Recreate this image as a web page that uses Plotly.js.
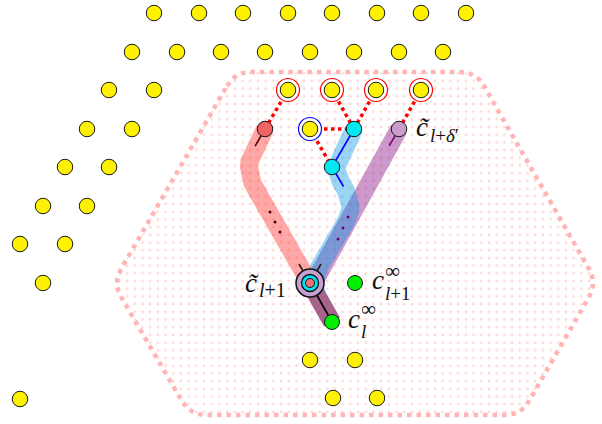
<!DOCTYPE html>
<html><head><meta charset="utf-8">
<script src="https://cdn.plot.ly/plotly-3.0.1.min.js"></script>
<style>body{margin:0;background:#fff}</style>
</head><body>
<div id="chart" style="width:602px;height:424px"></div>
<script>
// ---- data (pixel-space coordinates) ----
const yellowX = [154,199,243,288,332,377,421,466, 132,177,221,265,310,354,399,443, 109,154,288,332,376,421, 87,132,310, 65,109, 43,87, 20,65, 43, 310,355, 20,333,377];
const yellowY = [13,13,13,13,13,13,13,13, 52,52,52,52,52,52,52,52, 90,90,90,90,90,90, 129,129,129, 167,167, 206,206, 244,244, 283, 360,360, 399,398,398];
const ringRedX = [288,332,376,421];
const ringRedY = [90,90,90,90];
const ringBlueX = [310];
const ringBlueY = [129];
const cyanX = [354,332];
const cyanY = [129,167];
const redNodeX = [265], redNodeY = [129];
const purpleNodeX = [399], purpleNodeY = [129];
const greenX = [355,332], greenY = [283,322];
const centerX = [310], centerY = [283];
const hexX = [235,476,597,521,190,113];
const hexY = [72,72,283,415,415,283];
const redBandX = [265,243,310,332], redBandY = [129,167,283,322];
const purpleBandX = [399,310,332], purpleBandY = [129,283,322];
const blueBandX = [354,332,355,310,332], blueBandY = [129,167,206,283,322];
const linkX = [265,288,null, 354,332,null, 354,376,null, 310,354,null, 310,332,null, 399,421];
const linkY = [129,90,null, 129,90,null, 129,90,null, 129,129,null, 129,167,null, 129,90];
const redDotsX = [270,275,280], redDotsY = [212,222,232];
const purpleDotsX = [348,343,338], purpleDotsY = [217,228,239];

// ---- helpers ----
function roundPath(xs, ys, r, closed){
  const n = xs.length, ox=[], oy=[];
  for(let i=0;i<n;i++){
    const isEnd = !closed && (i===0 || i===n-1);
    if(isEnd){ ox.push(xs[i]); oy.push(ys[i]); continue; }
    const p = (i-1+n)%n, q = (i+1)%n;
    const dx1 = xs[p]-xs[i], dy1 = ys[p]-ys[i], l1 = Math.hypot(dx1,dy1);
    const dx2 = xs[q]-xs[i], dy2 = ys[q]-ys[i], l2 = Math.hypot(dx2,dy2);
    const ax = xs[i]+r*dx1/l1, ay = ys[i]+r*dy1/l1;
    const bx = xs[i]+r*dx2/l2, by = ys[i]+r*dy2/l2;
    for(let k=0;k<=8;k++){
      const t=k/8, u=1-t;
      ox.push(u*u*ax+2*u*t*xs[i]+t*t*bx);
      oy.push(u*u*ay+2*u*t*ys[i]+t*t*by);
    }
  }
  if(closed){ ox.push(ox[0]); oy.push(oy[0]); }
  return [ox, oy];
}
const hex = roundPath(hexX, hexY, 16, true);
const rb = roundPath(redBandX, redBandY, 24, false);
const pb = roundPath(purpleBandX, purpleBandY, 10, false);
const bb = roundPath(blueBandX, blueBandY, 18, false);

function seg(x0,y0,x1,y1,f){ return [[x0, x0+(x1-x0)*f],[y0, y0+(y1-y0)*f]]; }
const redStub = seg(redBandX[0],redBandY[0],redBandX[1],redBandY[1],0.45);
const purpleStub = seg(purpleBandX[0],purpleBandY[0],purpleBandX[1],purpleBandY[1],0.11);
const blueStub = seg(blueBandX[1],blueBandY[1],blueBandX[2],blueBandY[2],0.5);

const traces = [];
traces.push({x:hex[0], y:hex[1], mode:'lines', fill:'toself', fillcolor:'rgba(0,0,0,0)',
  fillpattern:{shape:'.', fgcolor:'#ffd8d8', bgcolor:'rgba(0,0,0,0)', size:7.7, solidity:0.1},
  line:{color:'#ffb5b5', width:4.5, dash:'4.5px,5px'}, hoverinfo:'skip'});
traces.push({x:pb[0], y:pb[1], mode:'lines', line:{color:'rgba(128,0,128,0.40)', width:18}});
traces.push({x:bb[0], y:bb[1], mode:'lines', line:{color:'rgba(0,150,230,0.40)', width:18}});
traces.push({x:rb[0], y:rb[1], mode:'lines', line:{color:'rgba(255,0,0,0.34)', width:18}});
traces.push({x:linkX, y:linkY, mode:'lines', connectgaps:false, line:{color:'#ff0000', width:3.5, dash:'3.5px,3.5px'}});
traces.push({x:redStub[0], y:redStub[1], mode:'lines', line:{color:'#5a0000', width:1.6}});
traces.push({x:purpleStub[0], y:purpleStub[1], mode:'lines', line:{color:'#800080', width:1.6}});
traces.push({x:[blueBandX[0],blueBandX[1]].concat(blueStub[0]).concat([null]), y:[blueBandY[0],blueBandY[1]].concat(blueStub[1]).concat([null]), mode:'lines', line:{color:'#0000ff', width:1.6}});
traces.push({x:[redBandX[2]-11, redBandX[2], null, purpleBandX[1]+11, purpleBandX[1]], y:[redBandY[2]-19, redBandY[2], null, purpleBandY[1]-19, purpleBandY[1]], mode:'lines', connectgaps:false, line:{color:'#2a1a1a', width:1.6}});
traces.push({x:[centerX[0], greenX[1]], y:[centerY[0], greenY[1]], mode:'lines', line:{color:'#000', width:1.6}});
traces.push({x:redDotsX, y:redDotsY, mode:'markers', marker:{size:3, color:'#5a0000'}});
traces.push({x:purpleDotsX, y:purpleDotsY, mode:'markers', marker:{size:3, color:'#7a0070'}});
traces.push({x:ringRedX, y:ringRedY, mode:'markers', marker:{size:23, color:'#ffffff', line:{color:'#ff0000', width:1.2}}});
traces.push({x:ringBlueX, y:ringBlueY, mode:'markers', marker:{size:23, color:'#ffffff', line:{color:'#0000ff', width:1.2}}});
traces.push({x:yellowX, y:yellowY, mode:'markers', marker:{size:15.5, color:'#fff200', line:{color:'#1a1a1a', width:1}}});
traces.push({x:cyanX, y:cyanY, mode:'markers', marker:{size:15.5, color:'#00e8f0', line:{color:'#1a1a1a', width:1}}});
traces.push({x:redNodeX, y:redNodeY, mode:'markers', marker:{size:15.5, color:'#f26464', line:{color:'#1a1a1a', width:1}}});
traces.push({x:purpleNodeX, y:purpleNodeY, mode:'markers', marker:{size:15.5, color:'#c89ccb', line:{color:'#1a1a1a', width:1}}});
traces.push({x:greenX, y:greenY, mode:'markers', marker:{size:15, color:'#00ee00', line:{color:'#1a1a1a', width:1}}});
traces.push({x:centerX, y:centerY, mode:'markers', marker:{size:28, color:'#c8a0d0', line:{color:'#111', width:1.5}}});
traces.push({x:centerX, y:centerY, mode:'markers', marker:{size:17, color:'#00e0ee', line:{color:'#111', width:1.3}}});
traces.push({x:centerX, y:centerY, mode:'markers', marker:{size:9, color:'#f07070', line:{color:'#111', width:1}}});

// ---- labels ----
const labelText = ['<i>c̃</i>', '<i>l</i>+<i>δ</i>′', '<i>c̃</i>', '<i>l</i>+1', '<i>c</i>', '∞', '<i>l</i>+1', '<i>c</i>', '∞', '<i>l</i>'];
const labelX = [415, 429, 244, 258, 371, 384, 384, 347, 360, 360];
const labelY = [127, 135, 283, 290, 280, 271, 293.5, 319, 309, 331.5];
const labelSize = [27, 19, 27, 20, 27, 21, 19, 27, 21, 19];
const annotations = labelText.map((t,i)=>({
  x:labelX[i], y:labelY[i], xref:'x', yref:'y', showarrow:false, xanchor:'left', yanchor:'middle',
  text: t, borderpad:0,
  font:{family:'Liberation Serif, serif', size:labelSize[i], color:'#111'}
}));

const layout = {
  width:602, height:424, margin:{l:0,r:0,t:0,b:0},
  paper_bgcolor:'#fff', plot_bgcolor:'#fff', showlegend:false,
  xaxis:{range:[0,602], visible:false, fixedrange:true},
  yaxis:{range:[424,0], visible:false, fixedrange:true},
  annotations: annotations, hovermode:false
};
traces.forEach(t=>{ t.hoverinfo='skip'; t.showlegend=false; if(t.mode==='markers'){ t.cliponaxis=false; } });
Plotly.newPlot('chart', traces, layout, {staticPlot:true});
</script>
</body></html>
